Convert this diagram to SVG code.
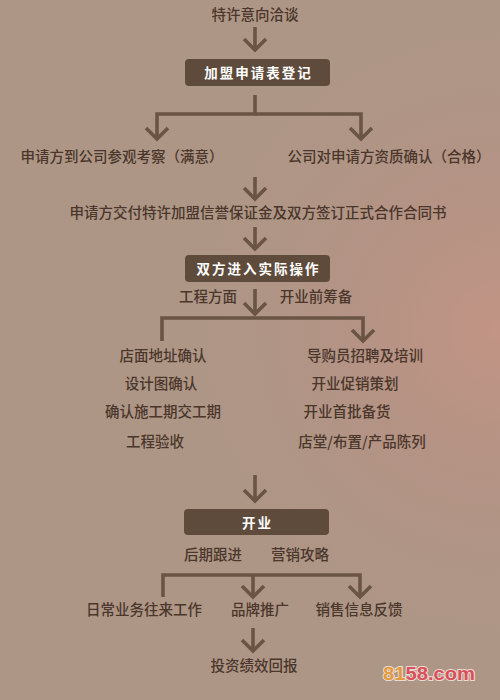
<svg xmlns="http://www.w3.org/2000/svg" width="500" height="700" viewBox="0 0 500 700">
  <defs>
    <radialGradient id="glow" cx="500" cy="330" r="330" gradientUnits="userSpaceOnUse">
      <stop offset="0" stop-color="#C49485" stop-opacity="0.9"/>
      <stop offset="0.5" stop-color="#B99083" stop-opacity="0.45"/>
      <stop offset="1" stop-color="#AE9686" stop-opacity="0"/>
    </radialGradient>
    <marker id="chev" viewBox="-14 -13 16 26" refX="0" refY="0" markerWidth="16" markerHeight="26" markerUnits="userSpaceOnUse" orient="auto" overflow="visible">
      <path d="M-11,-11 L0,0 L-11,11" fill="none" stroke="#6A5444" stroke-width="3.6"/>
    </marker>
    <style>
      .t { font-family: "Noto Sans CJK SC", "Microsoft YaHei", sans-serif; font-size: 14.5px; font-weight: 500; fill: #4A362B; text-anchor: middle; }
      .box { fill: #5E4B3B; }
      .bt { font-family: "Noto Sans CJK SC", sans-serif; font-size: 13.5px; font-weight: 700; fill: #FFFFFF; text-anchor: middle; letter-spacing: 2px; }
      .ln { fill: none; stroke: #6A5444; stroke-width: 3.6; }
      .ar { marker-end: url(#chev); }
      .wm { font-family: "Liberation Sans", Arial, sans-serif; font-size: 19px; font-weight: 700; stroke: #EADBD2; stroke-width: 2; paint-order: stroke; }
    </style>
  </defs>

  <rect width="500" height="700" fill="#AE9686"/>
  <rect width="500" height="700" fill="url(#glow)"/>

  <g id="connectors">
    <path class="ln ar" d="M255,27 V50"/>
    <path class="ln ar" d="M255,95 V114 H157 V139"/>
    <path class="ln ar" d="M255,114 H361 V139"/>
    <path class="ln ar" d="M255,177 V199"/>
    <path class="ln ar" d="M255,227 V249"/>
    <path class="ln ar" d="M255,289 V314"/>
    <path class="ln ar" d="M162,341 V318 H363 V341"/>
    <path class="ln ar" d="M255,475 V501"/>
    <path class="ln ar" d="M163,597 V575 H360 V597"/>
    <path class="ln ar" d="M253,575 V597"/>
    <path class="ln ar" d="M253,628 V651"/>
  </g>

  <g id="n-intent"><text class="t" x="255" y="20">特许意向洽谈</text></g>
  <g id="n-register">
    <rect class="box" x="185" y="59" width="145" height="27" rx="4"/>
    <text class="bt" x="258.5" y="78">加盟申请表登记</text>
  </g>
  <g id="n-visit"><text class="t" x="122" y="162">申请方到公司参观考察（满意）</text></g>
  <g id="n-qualify"><text class="t" x="389" y="162">公司对申请方资质确认（合格）</text></g>
  <g id="n-sign"><text class="t" x="258" y="218">申请方交付特许加盟信誉保证金及双方签订正式合作合同书</text></g>
  <g id="n-operate">
    <rect class="box" x="185" y="255" width="145" height="27" rx="4"/>
    <text class="bt" x="258.5" y="274">双方进入实际操作</text>
  </g>
  <g id="n-eng"><text class="t" x="208" y="302">工程方面</text></g>
  <g id="n-prep"><text class="t" x="316" y="302">开业前筹备</text></g>
  <g id="n-eng-items">
    <text class="t" x="163" y="361">店面地址确认</text>
    <text class="t" x="161" y="389">设计图确认</text>
    <text class="t" x="163" y="417">确认施工期交工期</text>
    <text class="t" x="155" y="447">工程验收</text>
  </g>
  <g id="n-prep-items">
    <text class="t" x="365" y="361">导购员招聘及培训</text>
    <text class="t" x="355" y="389">开业促销策划</text>
    <text class="t" x="347" y="417">开业首批备货</text>
    <text class="t" x="362" y="447">店堂/布置/产品陈列</text>
  </g>
  <g id="n-open">
    <rect class="box" x="184" y="509" width="145" height="26" rx="4"/>
    <text class="bt" x="257.5" y="528">开业</text>
  </g>
  <g id="n-follow"><text class="t" x="213" y="560">后期跟进</text></g>
  <g id="n-marketing"><text class="t" x="300" y="560">营销攻略</text></g>
  <g id="n-daily"><text class="t" x="144" y="615">日常业务往来工作</text></g>
  <g id="n-brand"><text class="t" x="260" y="615">品牌推广</text></g>
  <g id="n-feedback"><text class="t" x="359" y="615">销售信息反馈</text></g>
  <g id="n-return"><text class="t" x="254" y="671">投资绩效回报</text></g>

  <text class="wm" x="383" y="680" textLength="92" lengthAdjust="spacingAndGlyphs"><tspan fill="#E39A3E">81</tspan><tspan fill="#D9505C">58.com</tspan></text>
</svg>
